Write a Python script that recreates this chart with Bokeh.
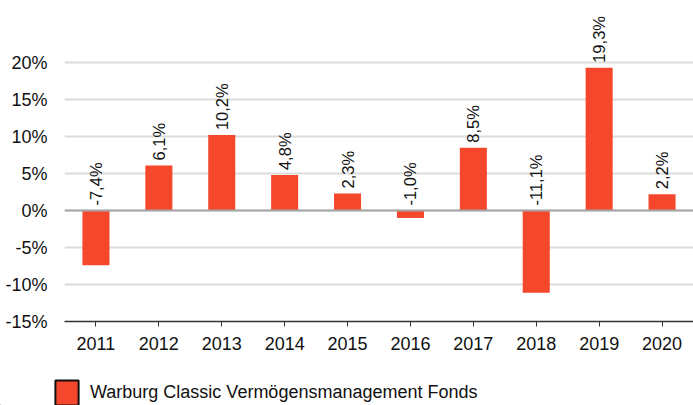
import math
from bokeh.plotting import figure
from bokeh.layouts import column, row
from bokeh.models import (ColumnDataSource, Range1d, FixedTicker, PrintfTickFormatter,
                          Span, Legend, LegendItem, FactorRange)
from bokeh.core.properties import value
from bokeh.embed import file_html
from bokeh.resources import INLINE

years = ["2011", "2012", "2013", "2014", "2015", "2016", "2017", "2018", "2019", "2020"]
returns = [-7.4, 6.1, 10.2, 4.8, 2.3, -1.0, 8.5, -11.1, 19.3, 2.2]
y_ticks = [-15, -10, -5, 0, 5, 10, 15, 20]
series_name = "Warburg Classic Vermögensmanagement Fonds"

BAR = "#F4472B"
FONT = "Liberation Sans"

labels = [f"{v:.1f}".replace(".", ",") + "%" for v in returns]
label_y = [max(v, 0) for v in returns]

src = ColumnDataSource(dict(x=years, top=returns, ly=label_y, lab=labels))

p = figure(width=693, height=361, x_range=FactorRange(*years, range_padding=0),
           y_range=Range1d(-15, 28.4), output_backend="svg", toolbar_location=None,
           min_border_left=64, min_border_right=0, min_border_top=0,
           min_border_bottom=40)
p.outline_line_color = None

bars = p.vbar(x="x", top="top", bottom=0, width=0.43, source=src,
              fill_color=BAR, line_color=None)

p.text(x="x", y="ly", text="lab", source=src, angle=math.pi / 2,
       text_align="left", text_baseline="middle", x_offset=0, y_offset=-5,
       text_font=value(FONT), text_font_size="16.5px", text_color="#111111")

p.add_layout(Span(location=0, dimension="width", line_color="#a6a6a6", line_width=2))

# axes
p.yaxis.ticker = FixedTicker(ticks=y_ticks)
p.yaxis.formatter = PrintfTickFormatter(format="%d%%")
p.yaxis.axis_line_color = None
p.yaxis.major_tick_line_color = None
p.yaxis.minor_tick_line_color = None
p.yaxis.major_label_standoff = 11
p.yaxis.major_label_text_font = FONT
p.yaxis.major_label_text_font_size = "18px"
p.yaxis.major_label_text_color = "#111111"

p.xaxis.axis_line_color = "#333333"
p.xaxis.axis_line_width = 1.5
p.xaxis.major_tick_line_color = "#333333"
p.xaxis.major_tick_in = 0
p.xaxis.major_tick_out = 5
p.xaxis.major_label_standoff = 10
p.xaxis.major_label_text_font = FONT
p.xaxis.major_label_text_font_size = "18px"
p.xaxis.major_label_text_color = "#111111"

p.xgrid.grid_line_color = None
p.ygrid.grid_line_color = "#dcdcdc"
p.ygrid.grid_line_width = 2

# legend strip below the chart
lg = figure(width=693, height=44, x_range=Range1d(0, 693), y_range=Range1d(0, 44),
            output_backend="svg", toolbar_location=None,
            x_axis_location=None, y_axis_location=None,
            min_border_left=0, min_border_right=0, min_border_top=0, min_border_bottom=0)
lg.grid.visible = False
lg.outline_line_color = None
proxy = lg.vbar(x=[-1000], top=[-1000], bottom=[-1001], width=1,
                fill_color=BAR, line_color="#111111", line_width=2)
legend = Legend(items=[LegendItem(label=series_name, renderers=[proxy])],
                location=(52, -3), orientation="horizontal",
                glyph_width=29, glyph_height=31, label_standoff=9,
                label_text_font=FONT, label_text_font_size="18px",
                label_text_color="#111111", border_line_color=None,
                background_fill_alpha=0, padding=0, margin=0, spacing=0)
legend.label_height = 31
lg.add_layout(legend)

layout = column(p, row(lg, spacing=0), spacing=0)
open("out.html", "w").write(file_html(layout, INLINE))
